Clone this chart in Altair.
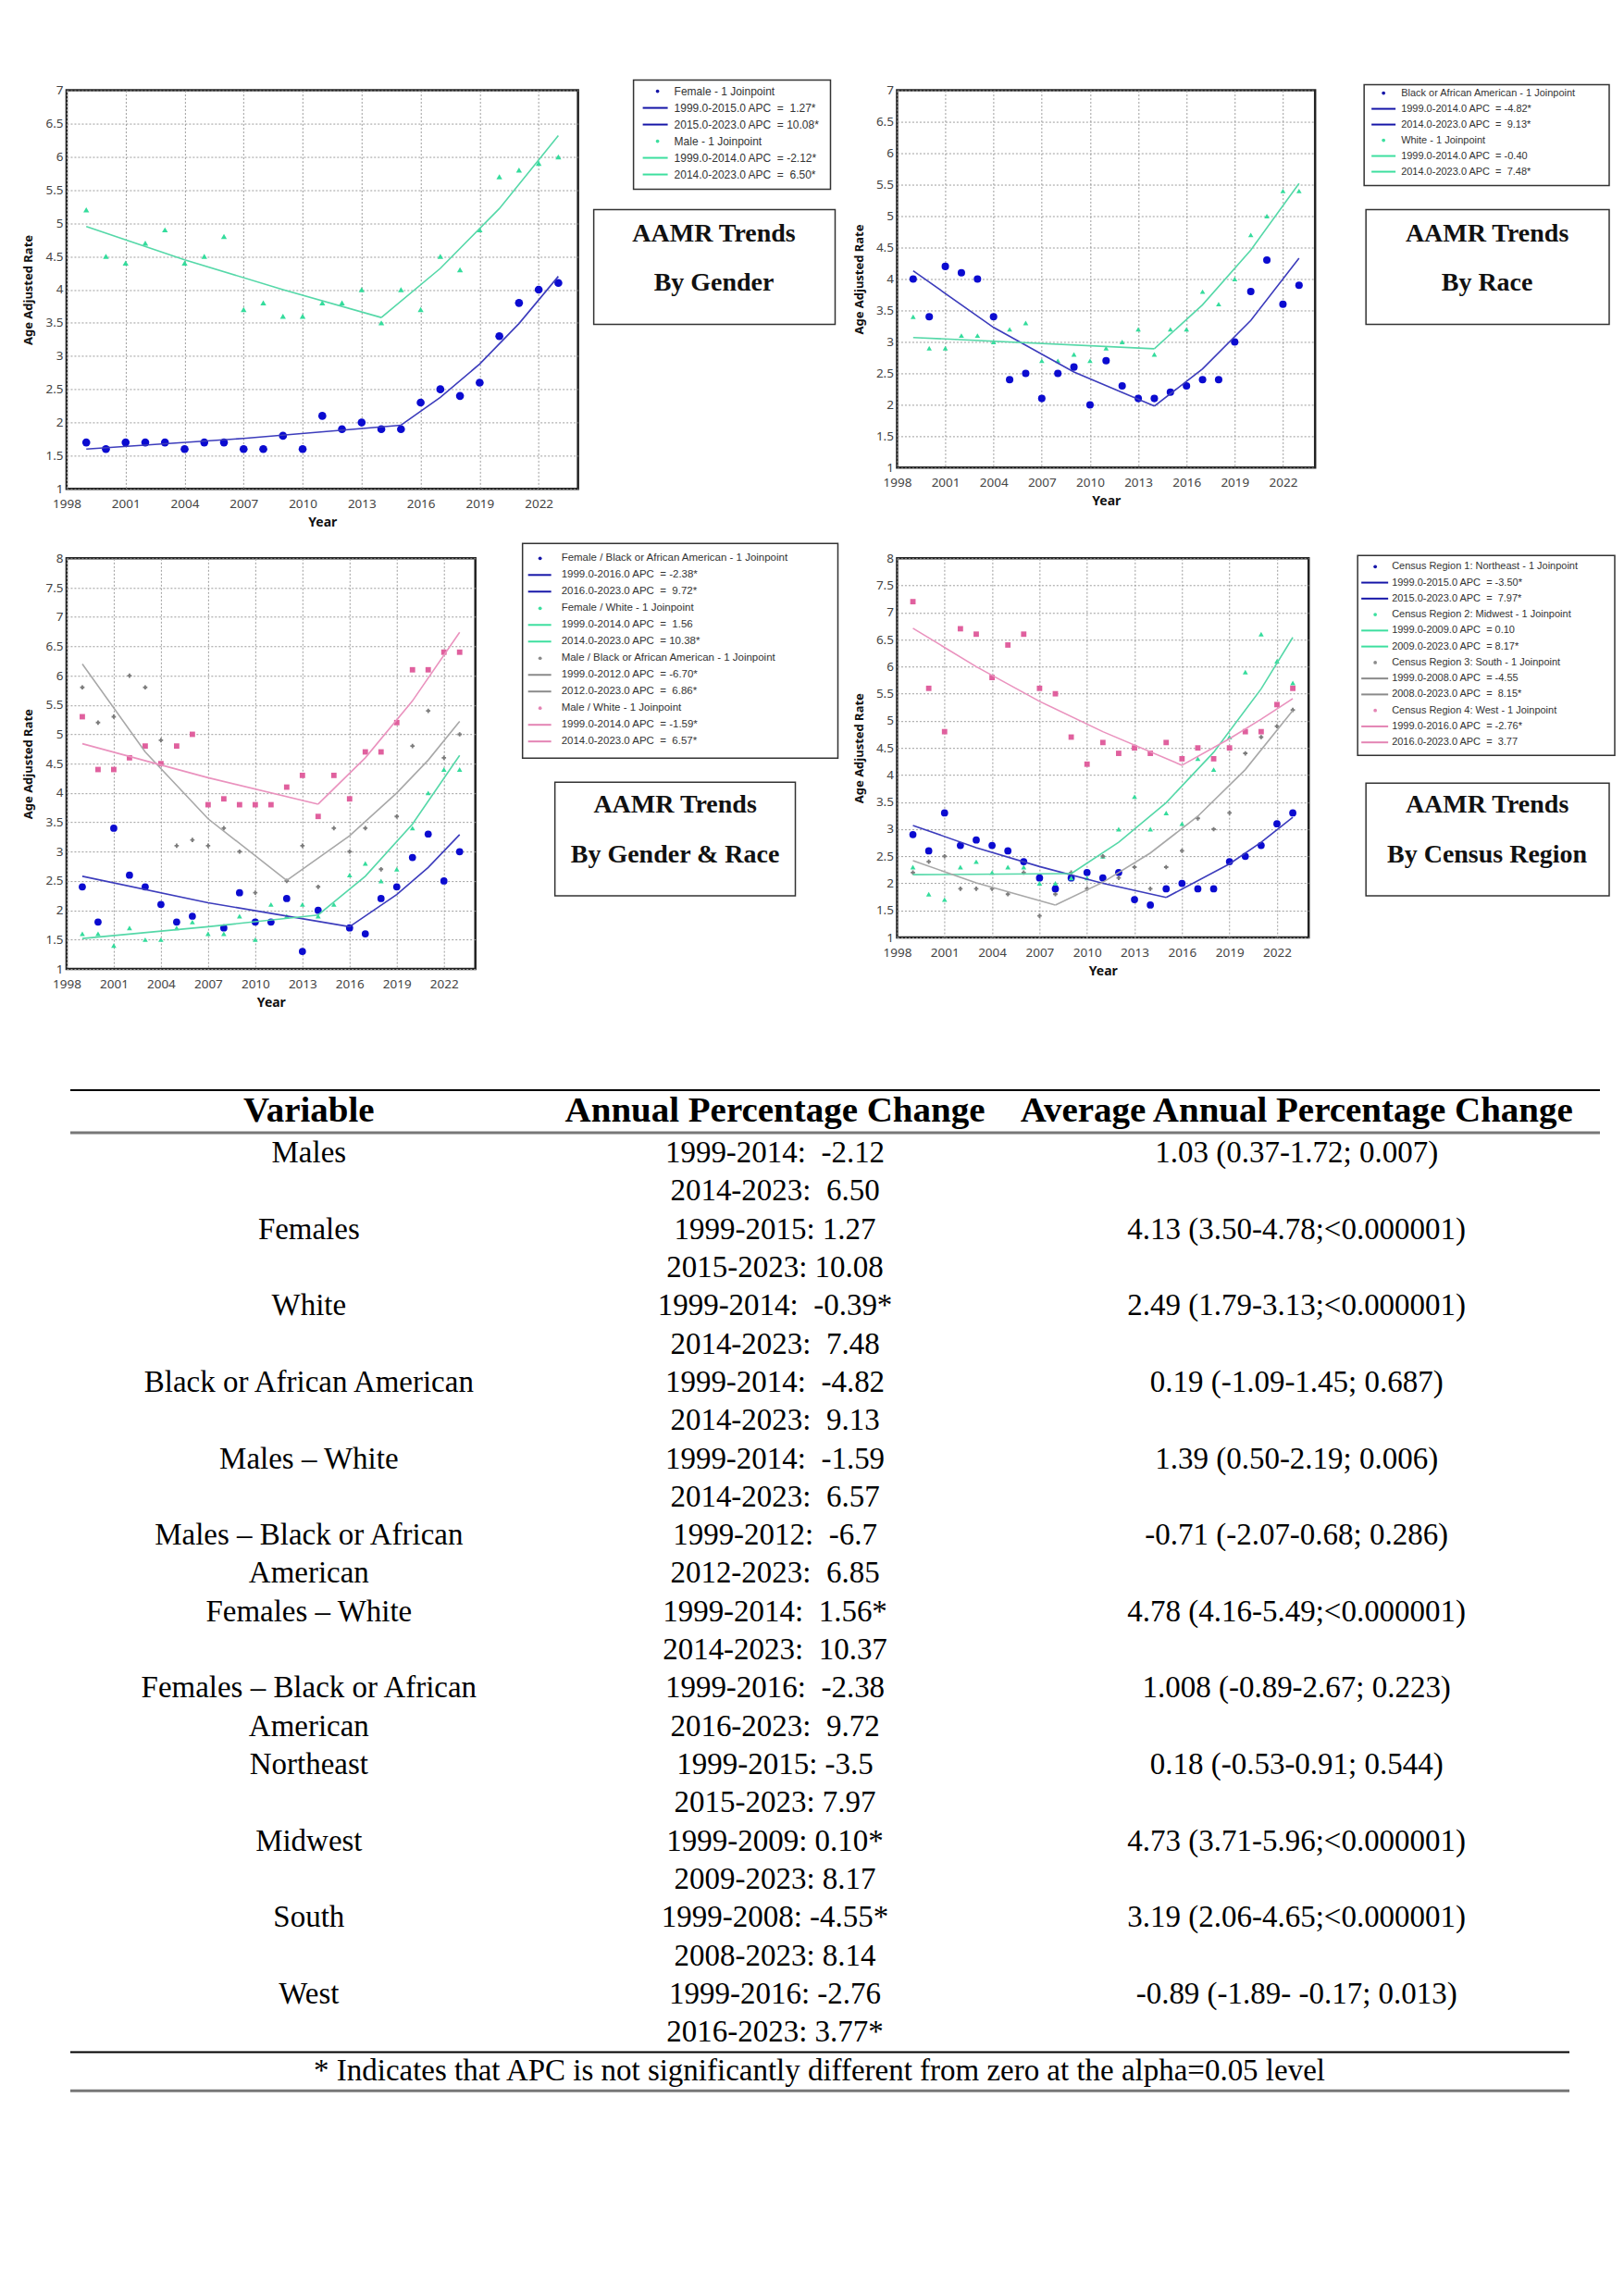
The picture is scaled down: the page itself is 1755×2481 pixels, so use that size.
import altair as alt
import pandas as pd

# ---------------- data ----------------
YEARS = list(range(1999, 2024))
X_TICKS = list(range(1998, 2023, 3))

# Panel 1: by gender
female_rate = [1.7, 1.6, 1.7, 1.7, 1.7, 1.6, 1.7, 1.7, 1.6, 1.6, 1.8, 1.6, 2.1, 1.9, 2.0, 1.9, 1.9, 2.3, 2.5, 2.4, 2.6, 3.3, 3.8, 4.0, 4.1]
male_rate = [5.2, 4.5, 4.4, 4.7, 4.9, 4.4, 4.5, 4.8, 3.7, 3.8, 3.6, 3.6, 3.8, 3.8, 4.0, 3.5, 4.0, 3.7, 4.5, 4.3, 4.9, 5.7, 5.8, 5.9, 6.0]
female_fit_years = [1999, 2007, 2015, 2017, 2019, 2021, 2023]
female_fit = [1.60, 1.76, 1.96, 2.38, 2.88, 3.49, 4.20]
male_fit_years = [1999, 2004, 2009, 2014, 2017, 2020, 2023]
male_fit = [4.95, 4.45, 4.00, 3.58, 4.32, 5.22, 6.32]

# Panel 2: by race
black_rate = [4.0, 3.4, 4.2, 4.1, 4.0, 3.4, 2.4, 2.5, 2.1, 2.5, 2.6, 2.0, 2.7, 2.3, 2.1, 2.1, 2.2, 2.3, 2.4, 2.4, 3.0, 3.8, 4.3, 3.6, 3.9]
white_rate = [3.4, 2.9, 2.9, 3.1, 3.1, 3.0, 3.2, 3.3, 2.7, 2.7, 2.8, 2.7, 2.9, 3.0, 3.2, 2.8, 3.2, 3.2, 3.8, 3.6, 4.0, 4.7, 5.0, 5.4, 5.4]
black_fit_years = [1999, 2004, 2009, 2014, 2017, 2020, 2023]
black_fit = [4.13, 3.23, 2.52, 1.98, 2.57, 3.34, 4.33]
white_fit_years = [1999, 2014, 2017, 2020, 2023]
white_fit = [3.07, 2.89, 3.59, 4.46, 5.52]

# Panel 3: by gender & race
fb_rate = [2.4, 1.8, 3.4, 2.6, 2.4, 2.1, 1.8, 1.9, None, 1.7, 2.3, 1.8, 1.8, 2.2, 1.3, 2.0, None, 1.7, 1.6, 2.2, 2.4, 2.9, 3.3, 2.5, 3.0]
fw_rate = [1.6, 1.6, 1.4, 1.7, 1.5, 1.5, 1.7, 1.8, 1.6, 1.6, 1.9, 1.5, 2.1, 1.9, 2.1, 1.9, 2.1, 2.6, 2.8, 2.5, 2.7, 3.4, 4.0, 4.4, 4.4]
mb_rate = [5.8, 5.2, 5.3, 6.0, 5.8, 4.9, 3.1, 3.2, 3.1, 3.4, 3.0, 2.3, None, 2.5, 3.1, 2.4, 3.4, 3.0, 3.4, 2.7, 3.6, 4.8, 5.4, 4.6, 5.0]
mw_rate = [5.3, 4.4, 4.4, 4.6, 4.8, 4.5, 4.8, 5.0, 3.8, 3.9, 3.8, 3.8, 3.8, 4.1, 4.3, 3.6, 4.3, 3.9, 4.7, 4.7, 5.2, 6.1, 6.1, 6.4, 6.4]
fb_fit_years = [1999, 2007, 2016, 2019, 2021, 2023]
fb_fit = [2.58, 2.13, 1.72, 2.27, 2.73, 3.29]
fw_fit_years = [1999, 2007, 2014, 2017, 2020, 2023]
fw_fit = [1.52, 1.72, 1.92, 2.58, 3.47, 4.64]
mb_fit_years = [1999, 2003, 2007, 2012, 2016, 2019, 2021, 2023]
mb_fit = [6.20, 4.70, 3.56, 2.51, 3.27, 4.00, 4.56, 5.22]
mw_fit_years = [1999, 2007, 2014, 2017, 2020, 2023]
mw_fit = [4.84, 4.26, 3.81, 4.60, 5.57, 6.74]

# Panel 4: by census region
ne_rate = [2.9, 2.6, 3.3, 2.7, 2.8, 2.7, 2.6, 2.4, 2.1, 1.9, 2.1, 2.2, 2.1, 2.2, 1.7, 1.6, 1.9, 2.0, 1.9, 1.9, 2.4, 2.5, 2.7, 3.1, 3.3]
mwr_rate = [2.3, 1.8, 1.7, 2.3, 2.4, 2.2, 2.3, 2.3, 2.0, 2.0, 2.1, 2.1, 2.5, 3.0, 3.6, 3.0, 3.3, 3.1, 4.3, 4.1, 4.7, 5.9, 6.6, 6.1, 5.7]
s_rate = [2.2, 2.4, 2.5, 1.9, 1.9, 1.9, 1.8, 2.2, 1.4, 1.8, 2.2, 1.9, 2.5, 2.1, 2.3, 1.9, 2.3, 2.6, 3.2, 3.0, 3.3, 4.4, 4.7, 4.9, 5.2]
w_rate = [7.2, 5.6, 4.8, 6.7, 6.6, 5.8, 6.4, 6.6, 5.6, 5.5, 4.7, 4.2, 4.6, 4.4, 4.5, 4.4, 4.6, 4.3, 4.5, 4.3, 4.5, 4.8, 4.8, 5.3, 5.6]
ne_fit_years = [1999, 2003, 2007, 2011, 2015, 2019, 2021, 2023]
ne_fit = [3.07, 2.66, 2.31, 2.00, 1.74, 2.36, 2.76, 3.22]
mwr_fit_years = [1999, 2009, 2012, 2015, 2018, 2021, 2023]
mwr_fit = [2.16, 2.18, 2.76, 3.49, 4.42, 5.59, 6.54]
s_fit_years = [1999, 2003, 2008, 2011, 2014, 2017, 2020, 2023]
s_fit = [2.42, 2.01, 1.60, 2.02, 2.56, 3.24, 4.10, 5.19]
w_fit_years = [1999, 2003, 2007, 2011, 2016, 2019, 2021, 2023]
w_fit = [6.71, 6.00, 5.36, 4.80, 4.18, 4.67, 5.03, 5.41]

# Legend texts
leg1 = ["Female - 1 Joinpoint", "1999.0-2015.0 APC  =  1.27*", "2015.0-2023.0 APC  = 10.08*",
        "Male - 1 Joinpoint", "1999.0-2014.0 APC  = -2.12*", "2014.0-2023.0 APC  =  6.50*"]
leg2 = ["Black or African American - 1 Joinpoint", "1999.0-2014.0 APC  = -4.82*", "2014.0-2023.0 APC  =  9.13*",
        "White - 1 Joinpoint", "1999.0-2014.0 APC  = -0.40", "2014.0-2023.0 APC  =  7.48*"]
leg3 = ["Female / Black or African American - 1 Joinpoint", "1999.0-2016.0 APC  = -2.38*", "2016.0-2023.0 APC  =  9.72*",
        "Female / White - 1 Joinpoint", "1999.0-2014.0 APC  =  1.56", "2014.0-2023.0 APC  = 10.38*",
        "Male / Black or African American - 1 Joinpoint", "1999.0-2012.0 APC  = -6.70*", "2012.0-2023.0 APC  =  6.86*",
        "Male / White - 1 Joinpoint", "1999.0-2014.0 APC  = -1.59*", "2014.0-2023.0 APC  =  6.57*"]
leg4 = ["Census Region 1: Northeast - 1 Joinpoint", "1999.0-2015.0 APC  = -3.50*", "2015.0-2023.0 APC  =  7.97*",
        "Census Region 2: Midwest - 1 Joinpoint", "1999.0-2009.0 APC  = 0.10", "2009.0-2023.0 APC  = 8.17*",
        "Census Region 3: South - 1 Joinpoint", "1999.0-2008.0 APC  = -4.55", "2008.0-2023.0 APC  =  8.15*",
        "Census Region 4: West - 1 Joinpoint", "1999.0-2016.0 APC  = -2.76*", "2016.0-2023.0 APC  =  3.77"]

# Table
tbl_variable = ["Males", "", "Females", "", "White", "", "Black or African American", "",
                "Males \u2013 White", "", "Males \u2013 Black or African", "American",
                "Females \u2013 White", "", "Females \u2013 Black or African", "American",
                "Northeast", "", "Midwest", "", "South", "", "West", ""]
tbl_apc = ["1999-2014:  -2.12", "2014-2023:  6.50", "1999-2015: 1.27", "2015-2023: 10.08",
           "1999-2014:  -0.39*", "2014-2023:  7.48", "1999-2014:  -4.82", "2014-2023:  9.13",
           "1999-2014:  -1.59", "2014-2023:  6.57", "1999-2012:  -6.7", "2012-2023:  6.85",
           "1999-2014:  1.56*", "2014-2023:  10.37", "1999-2016:  -2.38", "2016-2023:  9.72",
           "1999-2015: -3.5", "2015-2023: 7.97", "1999-2009: 0.10*", "2009-2023: 8.17",
           "1999-2008: -4.55*", "2008-2023: 8.14", "1999-2016: -2.76", "2016-2023: 3.77*"]
tbl_aapc = ["1.03 (0.37-1.72; 0.007)", "", "4.13 (3.50-4.78;<0.000001)", "",
            "2.49 (1.79-3.13;<0.000001)", "", "0.19 (-1.09-1.45; 0.687)", "",
            "1.39 (0.50-2.19; 0.006)", "", "-0.71 (-2.07-0.68; 0.286)", "",
            "4.78 (4.16-5.49;<0.000001)", "", "1.008 (-0.89-2.67; 0.223)", "",
            "0.18 (-0.53-0.91; 0.544)", "", "4.73 (3.71-5.96;<0.000001)", "",
            "3.19 (2.06-4.65;<0.000001)", "", "-0.89 (-1.89- -0.17; 0.013)", ""]
tbl_headers = ["Variable", "Annual Percentage Change", "Average Annual Percentage Change"]
footnote = "* Indicates that APC is not significantly different from zero at the alpha=0.05 level"

# ---------------- styles ----------------
BLUE_PT, BLUE_LN, BLUE_LG = "#0b0bd0", "#3c3cbc", "#1616a8"
GREEN_PT, GREEN_LN, GREEN_LG = "#34dc9c", "#55d8a8", "#3ddf9f"
GRAY_PT, GRAY_LN, GRAY_LG = "#7c7c7c", "#a8a8a8", "#8a8a8a"
PINK_PT, PINK_LN, PINK_LG = "#e0609e", "#ea92be", "#e484b4"
SANS = "Noto Sans"
LEG_FONT = "Liberation Sans"
SERIF = "Liberation Serif"


def nbsp(s):
    return s.replace("  ", "\u00a0 ")


def ser(rate, fy, fv, joint, pt, ln, shape, size):
    return dict(rate=rate, fy=fy, fv=fv, j=joint, pt=pt, ln=ln, shape=shape, size=size)


def x_axis():
    return alt.Axis(values=X_TICKS, format="d", title="Year", grid=True, gridColor="#9c9c9c",
                    gridDash=[2, 2], gridWidth=1, domain=False, ticks=False, labelFont=SANS,
                    labelFontSize=13.5, labelColor="#444", labelPadding=9, labelFlush=False,
                    labelOverlap=False, titleFont=SANS, titleFontSize=14, titleFontWeight="bold",
                    titleColor="#111", titlePadding=7)


def y_axis(ymax):
    vals = [1 + 0.5 * i for i in range(int((ymax - 1) * 2) + 1)]
    return alt.Axis(values=vals, format="~g", title="Age Adjusted Rate", grid=True, gridColor="#9c9c9c",
                    gridDash=[2, 2], gridWidth=1, domain=False, ticks=False, labelFont=SANS,
                    labelFontSize=13.5, labelColor="#444", labelPadding=4, labelFlush=False,
                    labelOverlap=False, titleFont=SANS, titleFontSize=13, titleFontWeight="bold",
                    titleColor="#111", titlePadding=11)


ONE = pd.DataFrame({"a": [0]})


def panel(series, ymax, w, h, labels, kinds, cols, geo, title_words, leg_fs, anchor=None):
    prow, lrow = [], []
    for si, s in enumerate(series):
        for yr, v in zip(YEARS, s["rate"]):
            if v is not None:
                prow.append(dict(year=yr, rate=v, c=s["pt"], sh=s["shape"], sz=s["size"]))
        for yr, v in zip(s["fy"], s["fv"]):
            if yr <= s["j"]:
                lrow.append(dict(year=yr, fit=v, c=s["ln"], key=f"{si}a"))
            if yr >= s["j"]:
                lrow.append(dict(year=yr, fit=v, c=s["ln"], key=f"{si}b"))
    xs = alt.Scale(domain=[1998, 2024], nice=False, zero=False)
    ys = alt.Scale(domain=[1, ymax], nice=False, zero=False)
    pts = alt.Chart(pd.DataFrame(prow)).mark_point(filled=True, opacity=1, strokeWidth=0).encode(
        x=alt.X("year:Q", scale=xs, axis=x_axis()),
        y=alt.Y("rate:Q", scale=ys, axis=y_axis(ymax)),
        color=alt.Color("c:N", scale=None),
        shape=alt.Shape("sh:N", scale=None),
        size=alt.Size("sz:Q", scale=None),
    )
    lns = alt.Chart(pd.DataFrame(lrow)).mark_line(strokeWidth=1.6).encode(
        x=alt.X("year:Q", scale=xs, axis=x_axis()),
        y=alt.Y("fit:Q", scale=ys, axis=y_axis(ymax)),
        color=alt.Color("c:N", scale=None),
        detail="key:N",
    )
    data_layer = alt.layer(pts, lns)

    n = len(labels)
    ldf = pd.DataFrame(dict(k=list(range(n)), label=[nbsp(t) for t in labels], kind=kinds, col=cols))
    yl = alt.Y("k:Q", scale=alt.Scale(domain=[0, n - 1], range=list(geo["rows"]), nice=False, zero=False),
               axis=None)
    bx0, bx1, by0, by1 = geo["box"]
    box = alt.Chart(ONE).mark_rect(fill="white", stroke="#333", strokeWidth=1.5).encode(
        x=alt.value(bx0), x2=alt.value(bx1), y=alt.value(by0), y2=alt.value(by1))
    base = alt.Chart(ldf)
    rules = base.transform_filter(alt.datum.kind == "line").mark_rule(strokeWidth=2).encode(
        x=alt.value(geo["line"][0]), x2=alt.value(geo["line"][1]), y=yl, color=alt.Color("col:N", scale=None))
    dots = base.transform_filter(alt.datum.kind == "dot").mark_circle(size=14, opacity=1).encode(
        x=alt.value(geo["dot"]), y=yl, color=alt.Color("col:N", scale=None))
    txt = base.mark_text(align="left", baseline="middle", font=LEG_FONT, fontSize=leg_fs, color="#333").encode(
        x=alt.value(geo["text"]), y=yl, text="label:N")
    tx0, tx1, ty0, ty1 = geo["tbox"]
    tbox = alt.Chart(ONE).mark_rect(fill="white", stroke="#333", strokeWidth=1.5).encode(
        x=alt.value(tx0), x2=alt.value(tx1), y=alt.value(ty0), y2=alt.value(ty1))
    tl = []
    for word, yy in zip(title_words, geo["ty"]):
        tl.append(alt.Chart(ONE).mark_text(font=SERIF, fontSize=28, fontWeight="bold", color="#111",
                                           align="center", baseline="middle").encode(
            x=alt.value(geo["tcx"]), y=alt.value(yy), text=alt.value(word)))
    deco = [box, rules, dots, txt, tbox] + tl
    if anchor is not None:
        deco.append(alt.Chart(ONE).mark_rect(fill="white", strokeOpacity=0).encode(
            x=alt.value(anchor[0]), x2=alt.value(anchor[0] + 1),
            y=alt.value(anchor[1]), y2=alt.value(anchor[1] + 1)))
    deco_layer = alt.layer(*deco)
    return alt.layer(data_layer, deco_layer).resolve_scale(y="independent").properties(width=w, height=h)


K6 = ["dot", "line", "line", "dot", "line", "line"]
K12 = K6 + K6

p1 = panel(
    [ser(female_rate, female_fit_years, female_fit, 2015, BLUE_PT, BLUE_LN, "circle", 75),
     ser(male_rate, male_fit_years, male_fit, 2014, GREEN_PT, GREEN_LN, "triangle-up", 40)],
    7, 553, 431, leg1, K6, [BLUE_LG] * 3 + [GREEN_LG] * 3,
    dict(box=(613, 826, -11, 107), rows=(1, 91), line=(623, 650), dot=639, text=657,
         tbox=(570, 831, 129, 253), tcx=700, ty=(155, 209)),
    ["AAMR Trends", "By Gender"], 12, anchor=(-62, -87))

p2 = panel(
    [ser(black_rate, black_fit_years, black_fit, 2014, BLUE_PT, BLUE_LN, "circle", 65),
     ser(white_rate, white_fit_years, white_fit, 2014, GREEN_PT, GREEN_LN, "triangle-up", 32)],
    7, 452, 408, leg2, K6, [BLUE_LG] * 3 + [GREEN_LG] * 3,
    dict(box=(505, 770, -6, 103), rows=(3, 88), line=(513, 539), dot=526, text=545,
         tbox=(507, 770, 129, 253), tcx=638, ty=(155, 209)),
    ["AAMR Trends", "By Race"], 11)

p3 = panel(
    [ser(fb_rate, fb_fit_years, fb_fit, 2016, BLUE_PT, BLUE_LN, "circle", 60),
     ser(fw_rate, fw_fit_years, fw_fit, 2014, GREEN_PT, GREEN_LN, "triangle-up", 32),
     ser(mb_rate, mb_fit_years, mb_fit, 2012, GRAY_PT, GRAY_LN, "cross", 22),
     ser(mw_rate, mw_fit_years, mw_fit, 2014, PINK_PT, PINK_LN, "square", 34)],
    8, 442, 444, leg3, K12, [BLUE_LG] * 3 + [GREEN_LG] * 3 + [GRAY_LG] * 3 + [PINK_LG] * 3,
    dict(box=(493, 834, -16, 216), rows=(0, 198), line=(499, 524), dot=512, text=535,
         tbox=(528, 788, 242, 365), tcx=658, ty=(267, 321)),
    ["AAMR Trends", "By Gender & Race"], 11.5)

p4 = panel(
    [ser(ne_rate, ne_fit_years, ne_fit, 2015, BLUE_PT, BLUE_LN, "circle", 60),
     ser(mwr_rate, mwr_fit_years, mwr_fit, 2009, GREEN_PT, GREEN_LN, "triangle-up", 32),
     ser(s_rate, s_fit_years, s_fit, 2008, GRAY_PT, GRAY_LN, "cross", 22),
     ser(w_rate, w_fit_years, w_fit, 2016, PINK_PT, PINK_LN, "square", 34)],
    8, 445, 410, leg4, K12, [BLUE_LG] * 3 + [GREEN_LG] * 3 + [GRAY_LG] * 3 + [PINK_LG] * 3,
    dict(box=(498, 776, -3, 213), rows=(9, 199), line=(502, 531), dot=517, text=535,
         tbox=(507, 770, 243, 365), tcx=638, ty=(267, 321)),
    ["AAMR Trends", "By Census Region"], 11)

# ---------------- table ----------------
trows = []
for i in range(len(tbl_variable)):
    for c, arr in enumerate([tbl_variable, tbl_apc, tbl_aapc]):
        if arr[i]:
            trows.append(dict(row=i, col=c, text=nbsp(arr[i])))
tdf = pd.DataFrame(trows)
hdf = pd.DataFrame(dict(col=[0, 1, 2], text=tbl_headers))
xcol = alt.X("col:Q", scale=alt.Scale(domain=[0, 1, 2], range=[262, 766, 1330], nice=False, zero=False),
             axis=None)
body = alt.Chart(tdf).mark_text(font=SERIF, fontSize=33, color="#000", align="center", baseline="middle").encode(
    x=xcol, y=alt.Y("row:Q", scale=alt.Scale(domain=[0, 23], range=[124, 1075], nice=False, zero=False), axis=None),
    text="text:N")
head = alt.Chart(hdf).mark_text(font=SERIF, fontSize=39, fontWeight="bold", color="#000", align="center",
                                baseline="middle").encode(x=xcol, y=alt.value(78), text="text:N")


def hrule(x0, x1, y, color, width):
    return alt.Chart(ONE).mark_rule(color=color, strokeWidth=width).encode(
        x=alt.value(x0), x2=alt.value(x1), y=alt.value(y))


foot = alt.Chart(ONE).mark_text(font=SERIF, fontSize=33, color="#000", align="center", baseline="middle").encode(
    x=alt.value(814), y=alt.value(1117), text=alt.value(footnote))

table = alt.layer(
    hrule(4, 1658, 56, "#000", 2), head, hrule(4, 1658, 102, "#777", 3), body,
    hrule(4, 1625, 1096, "#000", 2), foot, hrule(4, 1625, 1138, "#777", 3)
).properties(width=553, height=1150, view=alt.ViewBackground(stroke="transparent"))

chart = alt.concat(p1, p2, p3, p4, table, columns=2, spacing={"row": 75, "column": 345},
                   bounds="flush", align="each").properties(padding=0, background="white")
chart = chart.configure_view(stroke="#222", strokeWidth=2.5)

chart.save("out.html", embed_options={"renderer": "svg", "actions": False})
